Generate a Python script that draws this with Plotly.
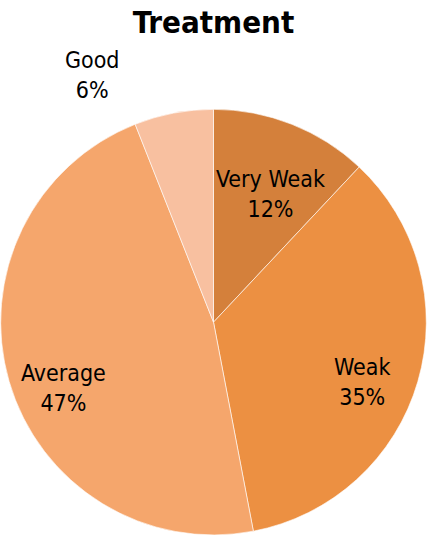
import plotly.graph_objects as go

labels = ["Very Weak", "Weak", "Average", "Good"]
values = [12, 35, 47, 6]
colors = ["#D4803B", "#EC9042", "#F5A66C", "#F8C0A0"]
# label block centres in pixels (x from left, y from top)
label_px = [(270, 194), (362, 382), (63, 388), (92, 75)]

W, H = 427, 536
FONT = "Liberation Sans Narrow, Arial Narrow, DejaVu Sans Condensed, sans-serif"

fig = go.Figure(go.Pie(
    labels=labels,
    values=values,
    sort=False,
    direction="clockwise",
    rotation=0,
    marker=dict(colors=colors, line=dict(color="white", width=0.6)),
    textinfo="none",
    hoverinfo="label+percent",
    showlegend=False,
    domain=dict(x=[0, 1], y=[0.002, 0.796]),
))

for lab, val, (px, py) in zip(labels, values, label_px):
    fig.add_annotation(
        text=f"{lab}<br>{val}%",
        x=px / W, y=1 - py / H, xref="paper", yref="paper",
        xanchor="center", yanchor="middle",
        showarrow=False, font=dict(family=FONT, size=23, color="black"),
    )

fig.update_layout(
    width=W, height=H,
    margin=dict(l=0, r=0, t=0, b=0),
    paper_bgcolor="white",
    title=dict(text="<b>Treatment</b>", x=0.5, xanchor="center",
               y=1 - 22 / H, yanchor="middle",
               font=dict(family=FONT, size=31, color="black")),
)

fig.write_html("out.html", config={"displayModeBar": False},
               post_script="document.body.style.margin='0';")
